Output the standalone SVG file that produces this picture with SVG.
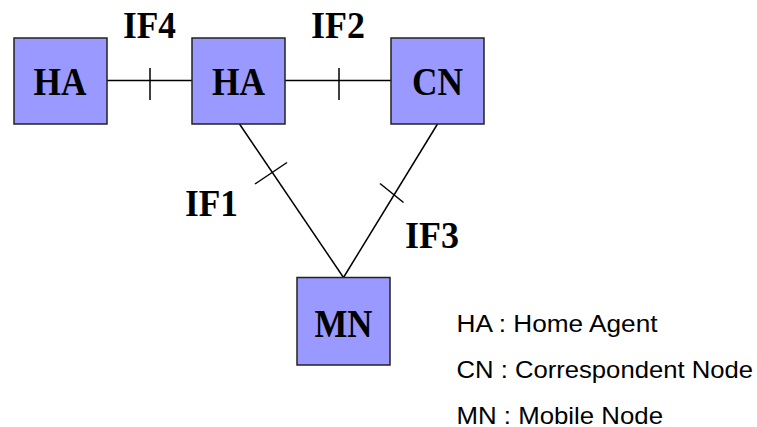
<svg xmlns="http://www.w3.org/2000/svg" width="757" height="427" viewBox="0 0 757 427">
  <style>
    .box { fill: #9999ff; stroke: #222222; stroke-width: 1.5; }
    .node-label { font-family: "Liberation Serif", "Times New Roman", serif; font-weight: bold; font-size: 39px; fill: #000000; text-anchor: middle; }
    .if-label { font-family: "Liberation Serif", "Times New Roman", serif; font-weight: bold; font-size: 37px; fill: #000000; }
    .link { stroke: #000000; stroke-width: 1.5; fill: none; }
    .legend { font-family: "Liberation Sans", Arial, sans-serif; font-size: 24.5px; fill: #000000; }
  </style>

  <rect width="757" height="427" fill="#ffffff"/>

  <!-- connectors with interface tick marks -->
  <g id="connectors">
    <line class="link" x1="107" y1="80.5" x2="192" y2="80.5"/>
    <line class="link" x1="150" y1="68" x2="150" y2="100"/>
    <line class="link" x1="285" y1="80.5" x2="391" y2="80.5"/>
    <line class="link" x1="339" y1="68" x2="339" y2="100"/>
    <line class="link" x1="239.5" y1="124" x2="343.5" y2="277.5"/>
    <line class="link" x1="255" y1="184" x2="287" y2="162.5"/>
    <line class="link" x1="437.5" y1="124" x2="343.5" y2="277.5"/>
    <line class="link" x1="380" y1="183.5" x2="403.5" y2="202.5"/>
  </g>

  <!-- interface labels -->
  <g id="interface-labels">
    <text class="if-label" x="123" y="37.5" textLength="53" lengthAdjust="spacingAndGlyphs">IF4</text>
    <text class="if-label" x="311" y="37.5" textLength="54" lengthAdjust="spacingAndGlyphs">IF2</text>
    <text class="if-label" x="185" y="215.5" textLength="53" lengthAdjust="spacingAndGlyphs">IF1</text>
    <text class="if-label" x="405" y="248" textLength="54" lengthAdjust="spacingAndGlyphs">IF3</text>
  </g>

  <g id="node-ha-remote">
    <rect class="box" x="14" y="38" width="93" height="86"/>
    <text class="node-label" x="60" y="95" textLength="53" lengthAdjust="spacingAndGlyphs">HA</text>
  </g>
  <g id="node-ha">
    <rect class="box" x="192" y="38" width="93" height="86"/>
    <text class="node-label" x="238.5" y="95" textLength="53" lengthAdjust="spacingAndGlyphs">HA</text>
  </g>
  <g id="node-cn">
    <rect class="box" x="391" y="38" width="93" height="86"/>
    <text class="node-label" x="437.5" y="95" textLength="51" lengthAdjust="spacingAndGlyphs">CN</text>
  </g>
  <g id="node-mn">
    <rect class="box" x="297" y="277.5" width="93" height="87.5"/>
    <text class="node-label" x="343.5" y="337" textLength="58" lengthAdjust="spacingAndGlyphs">MN</text>
  </g>

  <!-- legend -->
  <g id="legend">
    <text class="legend" x="456.5" y="331.5" textLength="201" lengthAdjust="spacingAndGlyphs">HA : Home Agent</text>
    <text class="legend" x="456.5" y="378" textLength="296.5" lengthAdjust="spacingAndGlyphs">CN : Correspondent Node</text>
    <text class="legend" x="456.5" y="423.5" textLength="206.5" lengthAdjust="spacingAndGlyphs">MN : Mobile Node</text>
  </g>
</svg>
